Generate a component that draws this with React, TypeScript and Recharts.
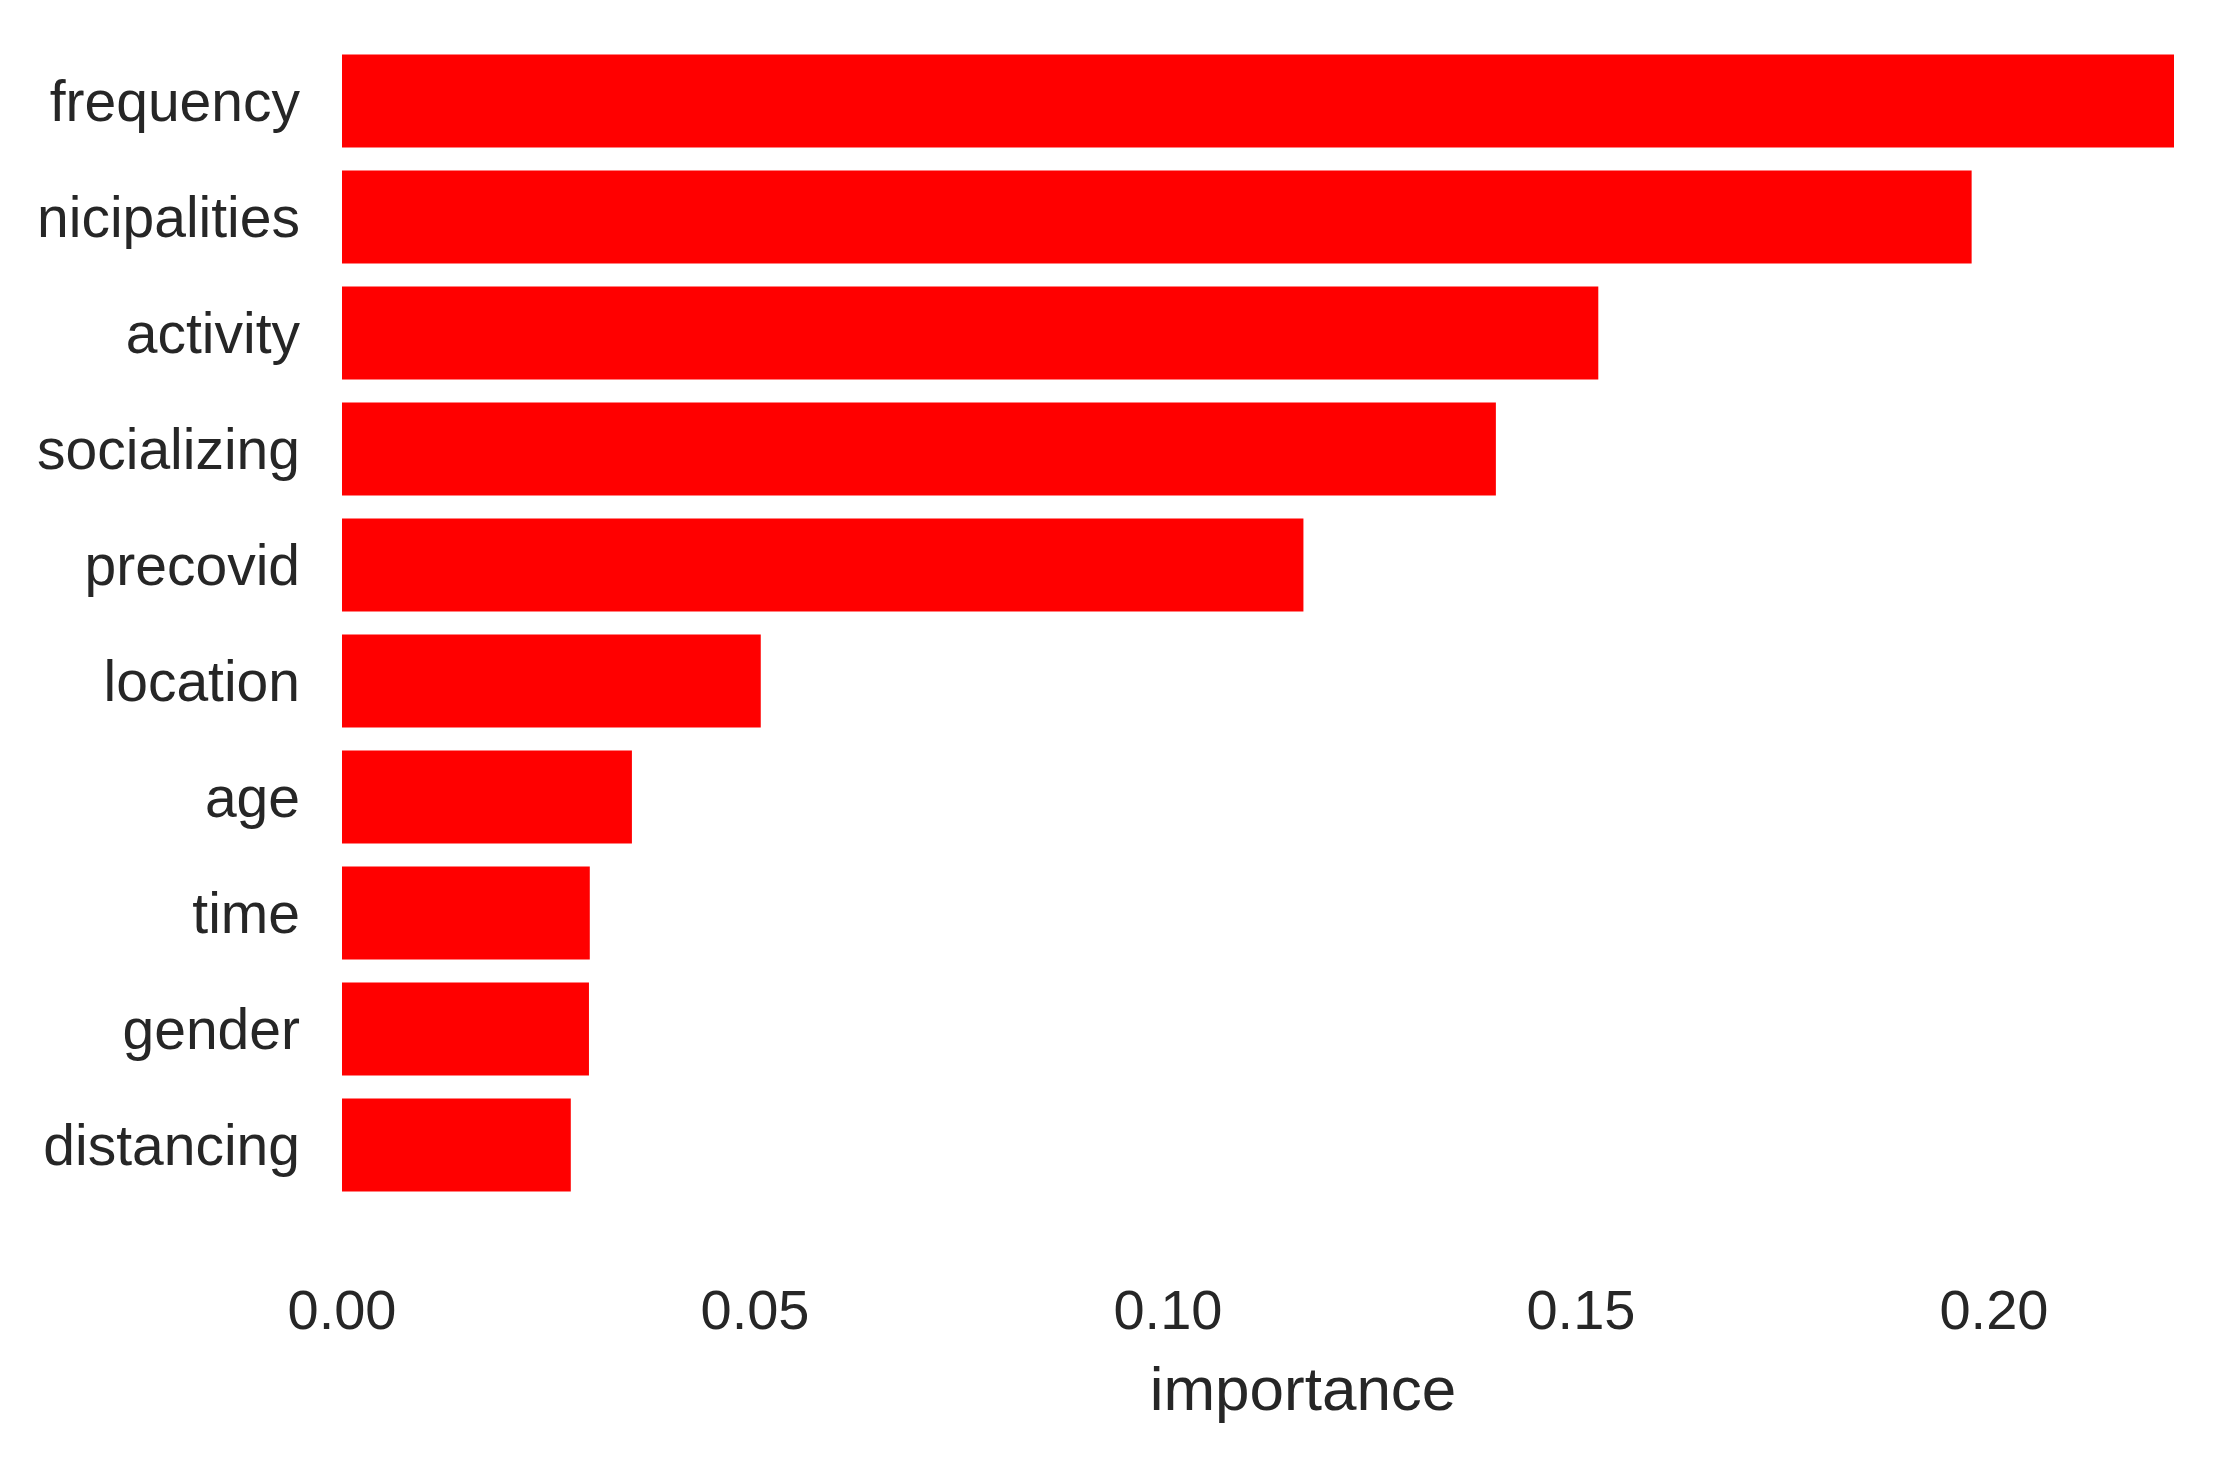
import { BarChart, Bar, XAxis, YAxis } from 'recharts';

// feature importances, top to bottom
const features = [
  'frequency',
  'nicipalities',
  'activity',
  'socializing',
  'precovid',
  'location',
  'age',
  'time',
  'gender',
  'distancing',
];
const importance = [0.2218, 0.1973, 0.1521, 0.1397, 0.1164, 0.0507, 0.0351, 0.03, 0.0299, 0.0277];
const xTicks = [0, 0.05, 0.1, 0.15, 0.2];

const data = features.map((f, i) => ({ feature: f, importance: importance[i] }));

const font = '"Liberation Sans", Arial, sans-serif';
const textColor = '#262626';

const App = () => {
  return (
    <div style={{ position: 'absolute', left: 0, top: 0, background: '#fff' }}>
      <BarChart
        width={2217}
        height={1467}
        data={data}
        layout="vertical"
        margin={{ top: 43, right: 43, bottom: 64, left: 0 }}
        barCategoryGap="10%"
      >
        <XAxis
          type="number"
          dataKey="importance"
          domain={[0, 0.2218]}
          ticks={xTicks}
          tickFormatter={(v: number) => v.toFixed(2)}
          axisLine={false}
          tickLine={false}
          tickSize={0}
          tickMargin={86}
          height={200}
          tick={{ fontSize: 56, fill: textColor, fontFamily: font }}
          label={{
            value: 'importance',
            position: 'insideTop',
            offset: 163,
            dx: 45,
            fontSize: 62,
            fill: textColor,
            fontFamily: font,
          }}
        />
        <YAxis
          type="category"
          dataKey="feature"
          width={342}
          axisLine={false}
          tickLine={false}
          tickSize={0}
          tickMargin={42}
          interval={0}
          tick={{ fontSize: 57, fill: textColor, fontFamily: font }}
        />
        <Bar dataKey="importance" fill="#ff0000" isAnimationActive={false} />
      </BarChart>
    </div>
  );
};

export default App;
